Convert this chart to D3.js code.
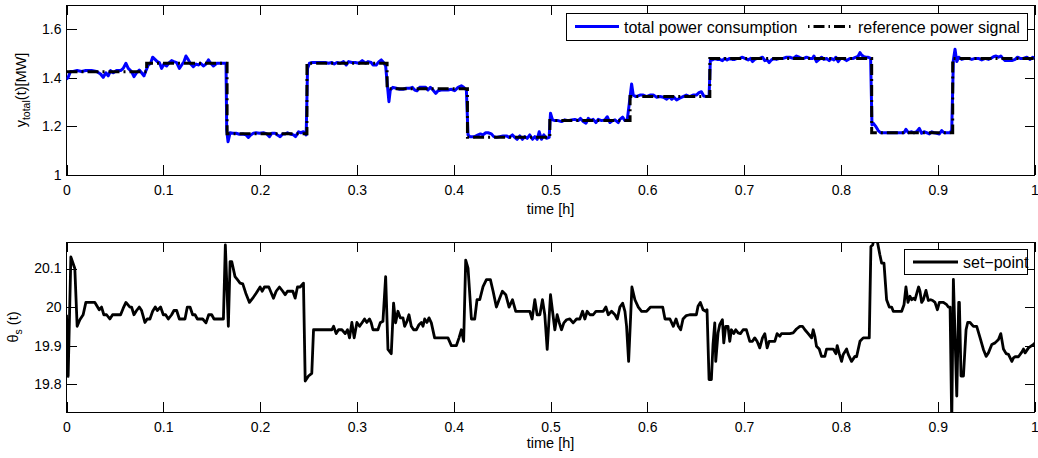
<!DOCTYPE html>
<html><head><meta charset="utf-8">
<script src="https://cdn.jsdelivr.net/npm/d3@7"></script>
<style>
body{margin:0;background:#fff}
svg{display:block}
text{font-family:"Liberation Sans",Arial,Helvetica,sans-serif}
</style>
</head><body>
<svg id="chart" width="1038" height="458"></svg>
<script>
// ---------------- DATA ----------------
const xTickValues = [0,0.1,0.2,0.3,0.4,0.5,0.6,0.7,0.8,0.9,1];
const xTickLabels = ["0","0.1","0.2","0.3","0.4","0.5","0.6","0.7","0.8","0.9","1"];
const topYTicks = [1,1.2,1.4,1.6];
const topYTickLabels = ["1","1.2","1.4","1.6"];
const botYTicks = [19.8,19.9,20,20.1];
const botYTickLabels = ["19.8","19.9","20","20.1"];

// total power consumption [MW]
const timeTotal = [
0,.0017,.0041,.0069,.011,.0155,.02,.0259,.031,.0352,
.0379,.0407,.0431,.0455,.0483,.0517,.0559,.0586,.0614,.0638,
.0672,.0697,.0724,.0752,.0776,.08,.0821,.0845,.0869,.089,
.0914,.0938,.0959,.0983,.1007,.1034,.1062,.1086,.111,.1138,
.1166,.119,.1214,.1234,.1259,.1283,.131,.1338,.1362,.1386,
.1414,.1441,.1466,.149,.1517,.1552,.1586,.1628,.1648,.1655,
.1669,.169,.1717,.1752,.1786,.1821,.1855,.1879,.1903,.1931,
.1959,.1993,.2034,.2069,.2097,.2121,.2155,.2179,.2207,.2234,
.2259,.2283,.231,.2345,.2366,.2397,.2421,.2448,.2476,.249,
.251,.2534,.2569,.2621,.2672,.2707,.2741,.2766,.2793,.2828,
.2862,.289,.2914,.2948,.2983,.3021,.3055,.309,.3114,.3148,
.3166,.32,.3228,.3252,.3276,.3297,.331,.3331,.3345,.3372,
.3407,.3441,.3476,.351,.3545,.3572,.3597,.3621,.3648,.3676,
.371,.3734,.3759,.3786,.3814,.3838,.3872,.3907,.3941,.3976,
.401,.4045,.4079,.4103,.4131,.4148,.4166,.4183,.4217,.4252,
.4276,.4303,.4331,.4355,.439,.4414,.4441,.4476,.451,.4545,
.4572,.4607,.4631,.4655,.4683,.471,.4734,.4759,.4786,.4814,
.4838,.4862,.4883,.4907,.4931,.4959,.4986,.5,.5021,.5045,
.5079,.5114,.5148,.5183,.5217,.5252,.5286,.531,.5338,.5366,
.539,.5414,.5441,.5469,.5493,.5528,.5562,.5586,.5614,.5641,
.5666,.57,.5717,.5745,.5769,.5793,.5814,.5838,.5855,.5883,
.5924,.5959,.5993,.6028,.6062,.6097,.6131,.6166,.62,.6228,
.6252,.6276,.6303,.6334,.6369,.6403,.6438,.6472,.6507,.6534,
.6559,.6583,.661,.6638,.6652,.6672,.6697,.6721,.6748,.6776,
.68,.6824,.6852,.6879,.6903,.6928,.6955,.6983,.7007,.7041,
.7066,.7086,.711,.7134,.7162,.719,.7214,.7238,.7259,.7283,
.7307,.7334,.7369,.7403,.7438,.7472,.7507,.7541,.7569,.7593,
.7617,.7645,.7679,.7707,.7721,.7748,.7776,.78,.7824,.7852,
.7879,.7903,.7928,.7948,.7972,.7997,.8024,.8059,.8093,.8128,
.8155,.8179,.8197,.8214,.8238,.8259,.8283,.8307,.8321,.8334,
.8362,.8386,.841,.8445,.8479,.8514,.8548,.8583,.8617,.8652,
.8672,.8697,.8731,.8755,.8783,.881,.8834,.8859,.8886,.8914,
.8938,.8962,.899,.9017,.9041,.9066,.9093,.9128,.9145,.9162,
.9179,.9197,.9217,.9248,.9283,.9317,.9352,.9386,.9421,.9455,
.949,.9524,.9548,.9576,.9603,.9628,.9652,.9672,.9697,.9731,
.9766,.98,.9824,.9852,.9886,.9921,.9955,.9983,1.0
];
const powerTotal = [
1.394,1.402,1.426,1.426,1.430,1.426,1.430,1.430,1.426,1.416,
1.402,1.421,1.408,1.430,1.421,1.430,1.430,1.439,1.460,1.439,
1.426,1.405,1.421,1.432,1.421,1.408,1.430,1.453,1.460,1.485,
1.476,1.467,1.463,1.439,1.457,1.449,1.463,1.471,1.467,1.463,
1.439,1.453,1.467,1.490,1.474,1.457,1.446,1.457,1.453,1.460,
1.449,1.457,1.474,1.460,1.449,1.460,1.460,1.460,1.460,1.185,
1.137,1.174,1.172,1.172,1.168,1.169,1.165,1.155,1.165,1.172,
1.174,1.172,1.174,1.169,1.158,1.172,1.172,1.165,1.158,1.169,
1.169,1.174,1.169,1.165,1.158,1.178,1.174,1.178,1.165,1.439,
1.460,1.463,1.463,1.463,1.463,1.460,1.463,1.457,1.463,1.460,
1.467,1.453,1.467,1.463,1.463,1.460,1.471,1.460,1.467,1.463,
1.453,1.453,1.467,1.474,1.463,1.449,1.391,1.302,1.350,1.361,
1.357,1.353,1.353,1.357,1.357,1.361,1.350,1.347,1.361,1.361,
1.361,1.350,1.361,1.350,1.336,1.347,1.350,1.350,1.350,1.353,
1.347,1.361,1.367,1.361,1.350,1.165,1.158,1.158,1.158,1.165,
1.169,1.165,1.174,1.174,1.169,1.158,1.155,1.158,1.161,1.161,
1.155,1.165,1.155,1.147,1.161,1.147,1.158,1.151,1.165,1.147,
1.158,1.147,1.178,1.147,1.165,1.151,1.155,1.254,1.227,1.224,
1.224,1.220,1.227,1.224,1.227,1.229,1.224,1.233,1.220,1.213,
1.233,1.224,1.229,1.216,1.229,1.224,1.227,1.240,1.216,1.224,
1.227,1.216,1.229,1.238,1.224,1.227,1.295,1.375,1.329,1.323,
1.329,1.329,1.323,1.329,1.329,1.320,1.323,1.320,1.312,1.323,
1.312,1.320,1.309,1.316,1.323,1.329,1.323,1.329,1.329,1.339,
1.343,1.325,1.323,1.323,1.480,1.474,1.480,1.476,1.476,1.471,
1.480,1.474,1.480,1.476,1.476,1.480,1.480,1.485,1.480,1.474,
1.480,1.467,1.476,1.480,1.480,1.485,1.471,1.474,1.463,1.474,
1.480,1.476,1.480,1.480,1.485,1.485,1.480,1.490,1.485,1.480,
1.480,1.485,1.480,1.480,1.490,1.467,1.476,1.485,1.476,1.480,
1.471,1.480,1.474,1.485,1.467,1.480,1.480,1.471,1.480,1.480,
1.485,1.490,1.504,1.494,1.487,1.485,1.485,1.480,1.206,1.213,
1.199,1.183,1.174,1.174,1.174,1.174,1.174,1.174,1.174,1.174,
1.188,1.174,1.178,1.174,1.178,1.192,1.172,1.178,1.174,1.169,
1.178,1.174,1.172,1.169,1.183,1.174,1.174,1.174,1.185,1.474,
1.518,1.467,1.485,1.476,1.480,1.480,1.476,1.480,1.480,1.474,
1.480,1.476,1.480,1.487,1.490,1.485,1.490,1.480,1.471,1.471,
1.471,1.476,1.485,1.480,1.480,1.485,1.476,1.485,1.480
];

// reference power signal [MW] (piecewise constant)
const refStepTimes = [0,0.0828,0.1659,0.2484,0.3312,0.4142,0.4993,0.5822,0.6646,0.75,0.8318,0.9155,1.0];
const refLevels   = [1.425,1.46,1.17,1.46,1.355,1.155,1.224,1.323,1.48,1.48,1.174,1.48,1.48];

// set-point theta_s(t)
const timeSet = [
0,.0017,.0045,.0086,.011,.0138,.0172,.02,.0293,.0338,
.0362,.0386,.0414,.0448,.0476,.0559,.0586,.0614,.0655,.0672,
.0697,.0724,.0752,.0776,.081,.0834,.0862,.089,.0917,.0938,
.0972,.1,.1024,.1052,.1086,.111,.1138,.1166,.1224,.1248,
.1276,.1303,.1328,.1352,.1407,.1441,.1469,.15,.1524,.1621,
.1641,.1672,.169,.1707,.1741,.1766,.1793,.1821,.1852,.189,
.1924,.1959,.2,.2021,.2045,.209,.2138,.2166,.22,.2234,
.2259,.2283,.2338,.2362,.2386,.2414,.2448,.2466,.25,.2534,
.2552,.2741,.2759,.2786,.281,.2845,.2879,.2903,.2924,.2948,
.2972,.3,.3028,.3055,.3079,.3103,.3131,.3148,.3166,.3217,
.3241,.3269,.3297,.3321,.3355,.3379,.34,.3424,.3448,.3476,
.3493,.3517,.3538,.3562,.3586,.3614,.3641,.3666,.3683,.37,
.3724,.3745,.3769,.3803,.3941,.3976,.4028,.4055,.4079,.4103,
.4124,.4148,.4183,.4217,.4241,.4269,.4303,.4338,.4379,.4407,
.4441,.4469,.4503,.4538,.4572,.4607,.4641,.4683,.4786,.481,
.4838,.4862,.489,.4917,.4941,.4966,.5,.5021,.5045,.5069,
.509,.5114,.5138,.5166,.52,.5234,.5269,.5303,.5331,.5355,
.5379,.5407,.5441,.5469,.551,.5545,.5572,.5597,.5631,.5666,
.569,.5717,.5745,.5769,.5786,.5807,.5828,.5841,.5872,.5907,
.5941,.5993,.6034,.6159,.6183,.6234,.6269,.6297,.6321,.6345,
.6369,.6403,.6438,.6507,.6524,.6548,.6576,.6603,.6617,.6638,
.6662,.6679,.6697,.6707,.6731,.6748,.6776,.679,.681,.6834,
.6852,.6869,.6893,.6914,.6938,.6962,.699,.7024,.7059,.7086,
.711,.7134,.7162,.719,.7214,.7238,.7259,.7283,.7317,.7341,
.7369,.7386,.7431,.7472,.7507,.7541,.7576,.7603,.7628,.7662,
.7697,.7714,.7731,.7748,.7776,.78,.7834,.7852,.7869,.7921,
.7948,.7962,.7983,.8007,.8024,.8059,.8076,.811,.8145,.8162,
.8197,.8231,.8266,.8293,.831,.8328,.8345,.8369,.8403,.8421,
.8445,.8472,.85,.8524,.8541,.8628,.8652,.8672,.8693,.8714,
.8731,.8748,.8766,.879,.8803,.8817,.8834,.8852,.8879,.8903,
.8928,.8948,.8972,.8997,.9017,.9059,.9093,.911,.9128,.9145,
.9162,.9197,.9217,.9224,.9241,.9266,.9293,.931,.9334,.9369,
.9403,.9438,.9472,.95,.9524,.9559,.9593,.9628,.9652,.9679,
.9707,.9731,.9766,.9783,.98,.9834,.9869,.9886,.9903,.9938,
.999,1.0
];
const setPoint = [
19.98,19.82,20.13,20.10,19.95,19.967,19.98,20.012,20.012,19.993,
20.0,19.98,19.98,19.969,19.98,19.98,19.997,20.012,20.0,20.0,
19.98,19.991,20.0,19.991,19.96,19.969,19.969,19.989,20.0,19.991,
20.0,19.98,19.98,19.969,19.98,19.991,19.991,19.969,19.969,20.0,
20.0,19.98,19.98,19.969,19.969,19.959,19.98,19.98,19.969,19.969,
20.161,19.95,20.118,20.118,20.079,20.071,20.062,20.06,20.036,20.012,
20.023,20.036,20.052,20.041,20.052,20.052,20.023,20.041,20.052,20.041,
20.032,20.041,20.041,20.023,20.052,20.052,20.062,19.808,19.821,19.828,
19.941,19.941,19.95,19.931,19.941,19.941,19.931,19.941,19.92,19.96,
19.92,19.96,19.95,19.96,19.969,19.96,19.969,19.959,19.941,19.941,
19.959,19.963,20.079,19.89,19.879,20.01,19.959,19.989,19.972,19.972,
19.95,19.963,19.98,19.95,19.941,19.941,19.954,19.96,19.95,19.969,
19.96,19.972,19.959,19.92,19.92,19.9,19.9,19.92,19.941,19.911,
20.122,20.101,19.969,19.969,20.019,20.019,20.053,20.071,20.071,20.041,
20.0,20.019,20.041,20.032,20.0,20.019,19.989,19.989,19.989,19.969,
20.019,19.98,19.98,20.019,19.98,19.89,20.032,19.989,19.941,19.98,
19.96,19.941,19.959,19.967,19.969,19.959,19.969,19.969,19.989,19.969,
19.989,19.98,19.98,19.989,19.989,19.989,20.0,19.98,19.989,19.98,
19.969,20.0,20.01,19.989,19.95,19.859,19.976,20.052,20.019,20.0,
19.989,19.989,20.0,20.0,19.969,19.969,19.95,19.969,19.95,19.941,
19.969,19.978,19.98,19.98,20.002,20.012,19.993,19.989,19.993,19.812,
19.812,19.903,19.959,19.859,19.933,19.954,19.967,19.907,19.95,19.95,
19.911,19.941,19.931,19.941,19.933,19.931,19.941,19.941,19.911,19.911,
19.92,19.911,19.894,19.92,19.931,19.894,19.911,19.911,19.911,19.931,
19.924,19.931,19.931,19.931,19.933,19.943,19.95,19.95,19.941,19.931,
19.92,19.941,19.924,19.898,19.891,19.872,19.872,19.891,19.891,19.891,
19.879,19.9,19.879,19.859,19.877,19.891,19.877,19.859,19.872,19.871,
19.911,19.92,19.92,19.92,20.157,20.161,20.18,20.18,20.135,20.114,
20.114,20.019,20.0,20.0,19.989,19.989,20.006,20.052,20.012,20.028,
20.019,20.023,20.019,20.041,20.052,20.041,20.012,20.019,20.043,20.017,
20.019,20.017,20.012,19.993,20.012,20.012,20.006,20.0,20.0,19.70,
20.072,19.769,20.012,20.012,19.821,19.821,19.941,19.96,19.96,19.95,
19.95,19.92,19.89,19.872,19.881,19.903,19.907,19.916,19.931,19.891,
19.879,19.877,19.859,19.868,19.871,19.871,19.883,19.891,19.881,19.894,
19.903,19.907
];

// ---------------- DRAWING ----------------
const FONT = '"Liberation Sans",Arial,Helvetica,sans-serif';
const svg = d3.select("#chart");
const X0 = 66.5, X1 = 1034.5;
const x = d3.scaleLinear().domain([0,1]).range([X0,X1]);

function makePanel(id, top, bottom, yDomain, yTicks, yLabels) {
  const y = d3.scaleLinear().domain(yDomain).range([bottom, top]);
  const g = svg.append("g");
  svg.append("clipPath").attr("id", id).append("rect")
    .attr("x", X0).attr("y", top).attr("width", X1 - X0).attr("height", bottom - top);

  const styleAxis = a => {
    a.select(".domain").remove();
    a.attr("font-family", FONT).attr("font-size", 14);
    a.selectAll("line").attr("stroke", "#000").attr("shape-rendering", "crispEdges");
    a.selectAll("text").attr("fill", "#000");
  };
  g.append("g").attr("transform", `translate(0,${bottom})`)
    .call(d3.axisBottom(x).tickValues(xTickValues).tickFormat((d,i)=>xTickLabels[i])
      .tickSizeInner(-10).tickSizeOuter(0).tickPadding(10)).call(styleAxis);
  g.append("g").attr("transform", `translate(0,${top})`)
    .call(d3.axisTop(x).tickValues(xTickValues).tickFormat("")
      .tickSizeInner(-10).tickSizeOuter(0)).call(styleAxis);
  g.append("g").attr("transform", `translate(${X0},0)`)
    .call(d3.axisLeft(y).tickValues(yTicks).tickFormat((d,i)=>yLabels[i])
      .tickSizeInner(-10).tickSizeOuter(0).tickPadding(5)).call(styleAxis);
  g.append("g").attr("transform", `translate(${X1},0)`)
    .call(d3.axisRight(y).tickValues(yTicks).tickFormat("")
      .tickSizeInner(-10).tickSizeOuter(0)).call(styleAxis);

  g.append("rect").attr("x", X0).attr("y", top).attr("width", X1 - X0).attr("height", bottom - top)
    .attr("fill", "none").attr("stroke", "#000").attr("stroke-width", 1).attr("shape-rendering", "crispEdges");

  const plot = svg.append("g").attr("clip-path", `url(#${id})`);
  return {y, plot};
}

// ---- top panel ----
const topP = makePanel("clipTop", 5, 175, [1, 1.7], topYTicks, topYTickLabels);
const lineTotal = d3.line().x((d,i)=>x(timeTotal[i])).y(d=>topP.y(d));
topP.plot.append("path").datum(powerTotal).attr("d", lineTotal)
  .attr("fill","none").attr("stroke","#0000ff").attr("stroke-width",3)
  .attr("stroke-linejoin","round");
const lineRef = d3.line().curve(d3.curveStepAfter).x((d,i)=>x(refStepTimes[i])).y(d=>topP.y(d));
topP.plot.append("path").datum(refLevels).attr("d", lineRef)
  .attr("fill","none").attr("stroke","#000").attr("stroke-width",3)
  .attr("stroke-dasharray","11,4,2,4");

// ---- bottom panel ----
const botP = makePanel("clipBot", 242, 412, [19.7276, 20.1688], botYTicks, botYTickLabels);
const lineSet = d3.line().x((d,i)=>x(timeSet[i])).y(d=>botP.y(d));
botP.plot.append("path").datum(setPoint).attr("d", lineSet)
  .attr("fill","none").attr("stroke","#000").attr("stroke-width",2.8)
  .attr("stroke-linejoin","round");

// ---- axis labels ----
const cx = (X0 + X1) / 2;
svg.append("text").attr("x", cx).attr("y", 214).attr("text-anchor","middle")
  .attr("font-size", 14.5).text("time [h]");
svg.append("text").attr("x", cx).attr("y", 448).attr("text-anchor","middle")
  .attr("font-size", 14.5).text("time [h]");

const yl1 = svg.append("text").attr("transform","translate(26,90) rotate(-90)")
  .attr("text-anchor","middle").attr("font-size",14.5);
yl1.append("tspan").text("y");
yl1.append("tspan").attr("font-size",10.5).attr("dy",4).text("total");
yl1.append("tspan").attr("dy",-4).text("(t)[MW]");

const yl2 = svg.append("text").attr("transform","translate(18,327) rotate(-90)")
  .attr("text-anchor","middle").attr("font-size",14.5);
yl2.append("tspan").text("\u03B8");
yl2.append("tspan").attr("font-size",10.5).attr("dy",4).text("s");
yl2.append("tspan").attr("dy",-4).text(" (t)");

// ---- legends ----
const lg1 = svg.append("g");
lg1.append("rect").attr("x",566.5).attr("y",13.5).attr("width",461).attr("height",26.5)
  .attr("fill","#fff").attr("stroke","#000").attr("shape-rendering","crispEdges");
lg1.append("line").attr("x1",575).attr("x2",619).attr("y1",26.5).attr("y2",26.5)
  .attr("stroke","#0000ff").attr("stroke-width",3);
lg1.append("text").attr("x",624).attr("y",32.5).attr("font-size",16).text("total power consumption");
lg1.append("line").attr("x1",808).attr("x2",852).attr("y1",26.5).attr("y2",26.5)
  .attr("stroke","#000").attr("stroke-width",3).attr("stroke-dasharray","1.5,4,11,4");
lg1.append("text").attr("x",858).attr("y",32.5).attr("font-size",16).text("reference power signal");

const lg2 = svg.append("g");
lg2.append("rect").attr("x",904.5).attr("y",249.5).attr("width",123).attr("height",25)
  .attr("fill","#fff").attr("stroke","#000").attr("shape-rendering","crispEdges");
lg2.append("line").attr("x1",913).attr("x2",958).attr("y1",262).attr("y2",262)
  .attr("stroke","#000").attr("stroke-width",3);
lg2.append("text").attr("x",963).attr("y",268).attr("font-size",16).text("set\u2212point");
</script>
</body></html>
